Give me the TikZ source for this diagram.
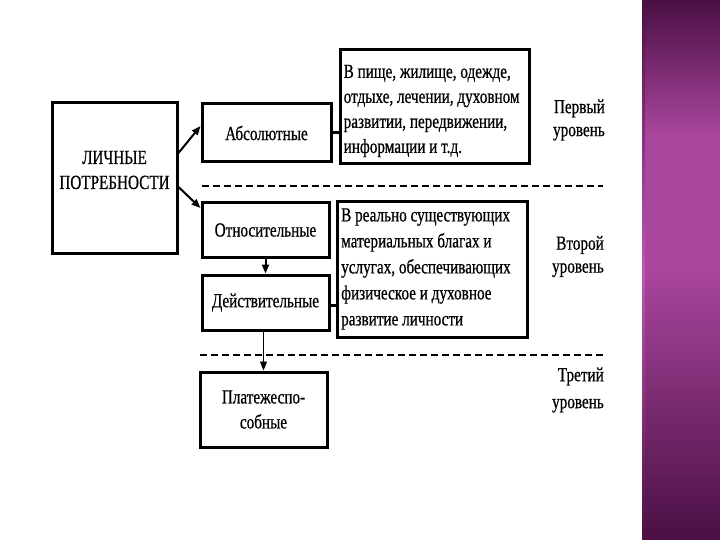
\documentclass[tikz,border=0pt]{standalone}
\usepackage{fontspec}
\setmainfont{Liberation Serif}[FakeStretch=0.76,FakeBold=0.6]
\usetikzlibrary{arrows.meta}
\definecolor{bandtop}{HTML}{4A0F44}
\definecolor{bandmid}{HTML}{A9469D}
\definecolor{bandedge}{HTML}{C058B2}
\tikzset{
  box/.style={draw=black, line width=3pt, rectangle, inner sep=0pt},
  txt/.style={font=\fontsize{20}{25}\selectfont, inner sep=0pt, align=center},
  ltxt/.style={font=\fontsize{20}{25}\selectfont, inner sep=0pt, align=left, anchor=west},
  ltxtb/.style={font=\fontsize{20}{26}\selectfont, inner sep=0pt, align=left, anchor=west},
  lvl/.style={font=\fontsize{20}{23}\selectfont, inner sep=0pt, align=right, anchor=east},
  lvlb/.style={font=\fontsize{20}{27}\selectfont, inner sep=0pt, align=right, anchor=east},
  conn/.style={line width=3pt},
  arr/.style={line width=2pt, -{Triangle[length=9pt,width=7pt]}},
  thinarr/.style={line width=0.8pt, -{Triangle[length=9pt,width=7pt]}},
  dline/.style={line width=2.2pt, dash pattern=on 7pt off 4pt}
}
\begin{document}
\begin{tikzpicture}[x=1pt,y=-1pt]
\useasboundingbox (0,0) rectangle (720,540);
\fill[white] (0,0) rectangle (720,540);
% purple band
\shade[top color=bandtop, bottom color=bandmid, middle color=bandmid] (642,0) rectangle (720,270);
\shade[top color=bandmid, bottom color=bandtop] (642,270) rectangle (720,540);
\shade[top color=bandtop, bottom color=bandedge] (642,0) rectangle (645,270);
\shade[top color=bandedge, bottom color=bandtop] (642,270) rectangle (645,540);

% boxes
\node[box, minimum width=125pt, minimum height=150pt] (lp) at (114.5,178) {};
\node[txt] (lpt) at (114.5,170) {ЛИЧНЫЕ\\ПОТРЕБНОСТИ};
\node[box, minimum width=129pt, minimum height=58pt] (abs) at (266.5,133) {};
\node[txt] at (abs) {Абсолютные};
\node[box, minimum width=127pt, minimum height=54pt] (rel) at (265.5,230) {};
\node[txt] at (rel) {Относительные};
\node[box, minimum width=127pt, minimum height=55pt] (act) at (265.5,302.5) {};
\node[txt] at (act) {Действительные};
\node[box, minimum width=127pt, minimum height=75pt] (pay) at (263.5,409.5) {};
\node[txt] at (pay) {Платежеспо-\\собные};

\node[box, minimum width=189pt, minimum height=114pt] (r1) at (434.5,107) {};
\node[ltxt] at (343.5,111) {В пище, жилище, одежде,\\отдыхе, лечении, духовном\\развитии, передвижении,\\информации и т.д.};
\node[box, minimum width=190pt, minimum height=135pt] (r2) at (432,269.5) {};
\node[ltxtb] at (341,269) {В реально существующих\\материальных благах и\\услугах, обеспечивающих\\физическое и духовное\\развитие личности};

% level labels
\node[lvl] (l1) at (605,120) {Первый\\уровень};
\node[lvl] (l2) at (604,256.5) {Второй\\уровень};
\node[lvlb] (l3) at (604,390) {Третий\\уровень};

% dashed separators
\coordinate (d1a) at (202,186);
\coordinate (d1b) at (603,186);
\coordinate (d2a) at (200,355);
\coordinate (d2b) at (603,355);
\draw[dline] (d1a) -- (d1b);
\draw[dline] (d2a) -- (d2b);

% connectors
\draw[arr] ([yshift=25pt]lp.east) -- ([yshift=7pt]abs.west);
\draw[arr] ([yshift=-9pt]lp.east) -- ([yshift=22pt]rel.west);
\draw[conn] (abs.east) -- (abs.east -| r1.west);
\draw[conn] ([yshift=-2.5pt]act.east) -- ([yshift=-2.5pt]act.east -| r2.west);
\draw[arr] (rel.south) -- (act.north);
\draw[thinarr] ([xshift=-2pt]act.south) -- ([xshift=-2pt]act.south |- pay.north);
\end{tikzpicture}
\end{document}
